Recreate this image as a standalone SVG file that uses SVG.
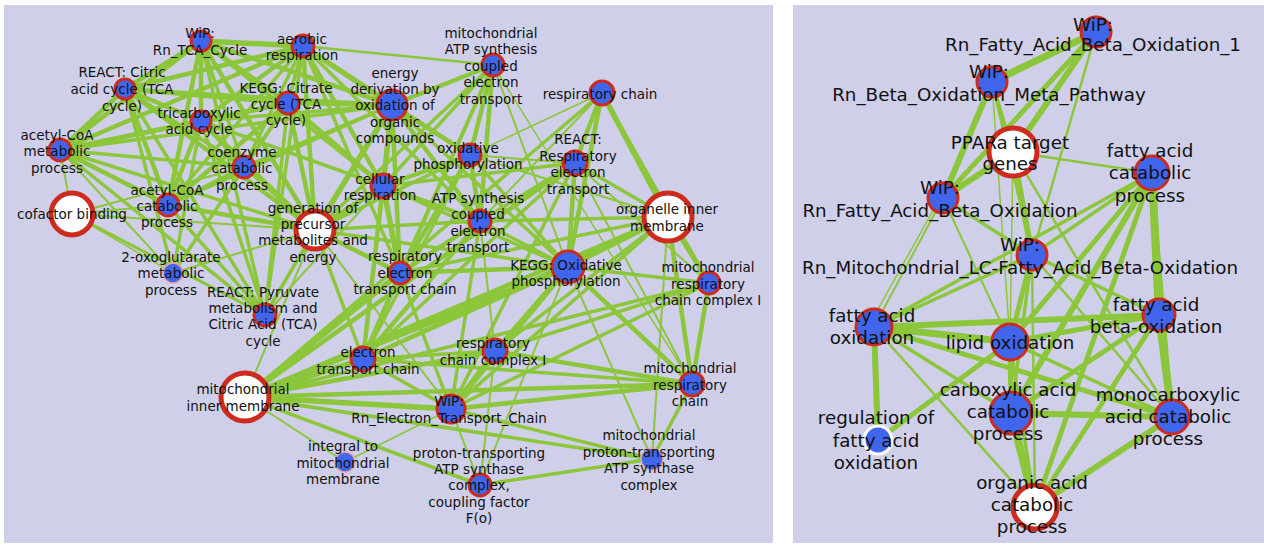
<svg xmlns="http://www.w3.org/2000/svg" width="1264" height="545" viewBox="0 0 1264 545">
<style>
.bg{fill:#cfcfe9}
.e line{stroke:#8cc63a}
.b{fill:#4066ee;stroke:#cc2b1d;stroke-width:3}
.w{fill:#ffffff;stroke:#cc2b1d;stroke-width:5}
.p{fill:#4066ee;stroke:#eba39c;stroke-width:1.5}
.q{fill:#4066ee;stroke:#ffffff;stroke-width:3}
text{font-family:"DejaVu Sans","Liberation Sans",sans-serif;fill:#111111;text-anchor:middle}
.L text{font-size:13.5px}
.R text{font-size:18.3px}
</style>
<rect width="1264" height="545" fill="#ffffff"/>
<rect class="bg" x="4" y="5" width="769" height="538"/>
<rect class="bg" x="793" y="5" width="471" height="538"/>

<g id="connectors" class="e">
<!-- left TCA cluster -->
<line x1="201" y1="41" x2="303" y2="46" stroke-width="5.5"/>
<line x1="201" y1="41" x2="125" y2="89" stroke-width="4.5"/>
<line x1="201" y1="41" x2="288" y2="103" stroke-width="4.5"/>
<line x1="201" y1="41" x2="201" y2="121" stroke-width="4.5"/>
<line x1="201" y1="41" x2="60" y2="150" stroke-width="4.5"/>
<line x1="201" y1="41" x2="244" y2="167" stroke-width="3.5"/>
<line x1="201" y1="41" x2="168" y2="205" stroke-width="4.5"/>
<line x1="201" y1="41" x2="315" y2="230" stroke-width="4.5"/>
<line x1="201" y1="41" x2="265" y2="315" stroke-width="3.5"/>
<line x1="201" y1="41" x2="392" y2="105" stroke-width="4.5"/>
<line x1="201" y1="41" x2="383" y2="186" stroke-width="3.5"/>
<line x1="303" y1="46" x2="125" y2="89" stroke-width="4.5"/>
<line x1="303" y1="46" x2="288" y2="103" stroke-width="3.5"/>
<line x1="303" y1="46" x2="201" y2="121" stroke-width="4.5"/>
<line x1="303" y1="46" x2="392" y2="105" stroke-width="5.5"/>
<line x1="303" y1="46" x2="383" y2="186" stroke-width="4.5"/>
<line x1="303" y1="46" x2="315" y2="230" stroke-width="4.5"/>
<line x1="303" y1="46" x2="60" y2="150" stroke-width="4.5"/>
<line x1="303" y1="46" x2="244" y2="167" stroke-width="3.5"/>
<line x1="303" y1="46" x2="168" y2="205" stroke-width="3.5"/>
<line x1="303" y1="46" x2="265" y2="315" stroke-width="3.5"/>
<line x1="303" y1="46" x2="470" y2="155" stroke-width="3.5"/>
<line x1="303" y1="46" x2="480" y2="221" stroke-width="3.5"/>
<line x1="303" y1="46" x2="400" y2="273" stroke-width="3.5"/>
<line x1="303" y1="46" x2="493" y2="65" stroke-width="2.5"/>
<line x1="125" y1="89" x2="288" y2="103" stroke-width="4.5"/>
<line x1="125" y1="89" x2="201" y2="121" stroke-width="4.5"/>
<line x1="125" y1="89" x2="60" y2="150" stroke-width="4.5"/>
<line x1="125" y1="89" x2="244" y2="167" stroke-width="3.5"/>
<line x1="125" y1="89" x2="168" y2="205" stroke-width="4.5"/>
<line x1="125" y1="89" x2="315" y2="230" stroke-width="4.5"/>
<line x1="125" y1="89" x2="265" y2="315" stroke-width="3.5"/>
<line x1="125" y1="89" x2="392" y2="105" stroke-width="3.5"/>
<line x1="125" y1="89" x2="173" y2="273" stroke-width="3.5"/>
<line x1="288" y1="103" x2="201" y2="121" stroke-width="4.5"/>
<line x1="288" y1="103" x2="60" y2="150" stroke-width="4.5"/>
<line x1="288" y1="103" x2="244" y2="167" stroke-width="3.5"/>
<line x1="288" y1="103" x2="168" y2="205" stroke-width="4.5"/>
<line x1="288" y1="103" x2="315" y2="230" stroke-width="4.5"/>
<line x1="288" y1="103" x2="265" y2="315" stroke-width="3.5"/>
<line x1="288" y1="103" x2="392" y2="105" stroke-width="4.5"/>
<line x1="288" y1="103" x2="383" y2="186" stroke-width="4.5"/>
<line x1="288" y1="103" x2="173" y2="273" stroke-width="3.5"/>
<line x1="201" y1="121" x2="60" y2="150" stroke-width="4.5"/>
<line x1="201" y1="121" x2="168" y2="205" stroke-width="4.5"/>
<line x1="201" y1="121" x2="244" y2="167" stroke-width="3.5"/>
<line x1="201" y1="121" x2="315" y2="230" stroke-width="4.5"/>
<line x1="201" y1="121" x2="265" y2="315" stroke-width="3.5"/>
<line x1="201" y1="121" x2="392" y2="105" stroke-width="3.5"/>
<line x1="201" y1="121" x2="383" y2="186" stroke-width="3.5"/>
<line x1="201" y1="121" x2="173" y2="273" stroke-width="3.5"/>
<line x1="60" y1="150" x2="244" y2="167" stroke-width="3.5"/>
<line x1="60" y1="150" x2="168" y2="205" stroke-width="4.5"/>
<line x1="60" y1="150" x2="315" y2="230" stroke-width="3.5"/>
<line x1="60" y1="150" x2="265" y2="315" stroke-width="3.5"/>
<line x1="60" y1="150" x2="392" y2="105" stroke-width="3.5"/>
<line x1="60" y1="150" x2="72" y2="214" stroke-width="2"/>
<line x1="60" y1="150" x2="173" y2="273" stroke-width="2"/>
<line x1="244" y1="167" x2="168" y2="205" stroke-width="3.5"/>
<line x1="244" y1="167" x2="72" y2="214" stroke-width="2"/>
<line x1="244" y1="167" x2="315" y2="230" stroke-width="3.5"/>
<line x1="244" y1="167" x2="392" y2="105" stroke-width="3.5"/>
<line x1="168" y1="205" x2="315" y2="230" stroke-width="4.5"/>
<line x1="168" y1="205" x2="265" y2="315" stroke-width="3.5"/>
<line x1="168" y1="205" x2="72" y2="214" stroke-width="2"/>
<line x1="168" y1="205" x2="392" y2="105" stroke-width="3.5"/>
<line x1="72" y1="214" x2="315" y2="230" stroke-width="2"/>
<line x1="72" y1="214" x2="265" y2="315" stroke-width="3"/>
<line x1="72" y1="214" x2="173" y2="273" stroke-width="1.5"/>
<line x1="315" y1="230" x2="392" y2="105" stroke-width="5.5"/>
<line x1="315" y1="230" x2="383" y2="186" stroke-width="5.5"/>
<line x1="315" y1="230" x2="265" y2="315" stroke-width="3.5"/>
<line x1="315" y1="230" x2="173" y2="273" stroke-width="2"/>
<line x1="315" y1="230" x2="400" y2="273" stroke-width="4.5"/>
<line x1="315" y1="230" x2="363" y2="359" stroke-width="3.5"/>
<line x1="315" y1="230" x2="470" y2="155" stroke-width="3.5"/>
<line x1="315" y1="230" x2="480" y2="221" stroke-width="3.5"/>
<line x1="315" y1="230" x2="245" y2="397" stroke-width="2"/>
<line x1="315" y1="230" x2="493" y2="65" stroke-width="3.5"/>
<line x1="315" y1="230" x2="568" y2="267" stroke-width="3.5"/>
<line x1="315" y1="230" x2="451" y2="409" stroke-width="2"/>
<line x1="392" y1="105" x2="383" y2="186" stroke-width="5.5"/>
<line x1="392" y1="105" x2="493" y2="65" stroke-width="4.5"/>
<line x1="392" y1="105" x2="470" y2="155" stroke-width="4.5"/>
<line x1="392" y1="105" x2="480" y2="221" stroke-width="4.5"/>
<line x1="392" y1="105" x2="400" y2="273" stroke-width="4.5"/>
<line x1="392" y1="105" x2="363" y2="359" stroke-width="3.5"/>
<line x1="392" y1="105" x2="568" y2="267" stroke-width="3.5"/>
<line x1="392" y1="105" x2="265" y2="315" stroke-width="2"/>
<line x1="383" y1="186" x2="470" y2="155" stroke-width="4.5"/>
<line x1="383" y1="186" x2="480" y2="221" stroke-width="4.5"/>
<line x1="383" y1="186" x2="400" y2="273" stroke-width="5.5"/>
<line x1="383" y1="186" x2="363" y2="359" stroke-width="4.5"/>
<line x1="383" y1="186" x2="493" y2="65" stroke-width="3.5"/>
<line x1="383" y1="186" x2="568" y2="267" stroke-width="3.5"/>
<line x1="383" y1="186" x2="575" y2="163" stroke-width="3.5"/>
<line x1="383" y1="186" x2="265" y2="315" stroke-width="2"/>
<!-- left ETC cluster -->
<line x1="493" y1="65" x2="470" y2="155" stroke-width="4.5"/>
<line x1="493" y1="65" x2="480" y2="221" stroke-width="4.5"/>
<line x1="493" y1="65" x2="400" y2="273" stroke-width="3.5"/>
<line x1="493" y1="65" x2="363" y2="359" stroke-width="3.5"/>
<line x1="493" y1="65" x2="568" y2="267" stroke-width="2"/>
<line x1="493" y1="65" x2="692" y2="384" stroke-width="1.5"/>
<line x1="602" y1="93" x2="575" y2="163" stroke-width="4.5"/>
<line x1="602" y1="93" x2="668" y2="217" stroke-width="5.5"/>
<line x1="602" y1="93" x2="568" y2="267" stroke-width="4.5"/>
<line x1="602" y1="93" x2="709" y2="283" stroke-width="3.5"/>
<line x1="602" y1="93" x2="470" y2="155" stroke-width="1.5"/>
<line x1="602" y1="93" x2="480" y2="221" stroke-width="2"/>
<line x1="602" y1="93" x2="245" y2="397" stroke-width="3.5"/>
<line x1="470" y1="155" x2="480" y2="221" stroke-width="4.5"/>
<line x1="470" y1="155" x2="400" y2="273" stroke-width="4.5"/>
<line x1="470" y1="155" x2="363" y2="359" stroke-width="3.5"/>
<line x1="470" y1="155" x2="568" y2="267" stroke-width="3.5"/>
<line x1="470" y1="155" x2="575" y2="163" stroke-width="2"/>
<line x1="470" y1="155" x2="668" y2="217" stroke-width="2"/>
<line x1="575" y1="163" x2="668" y2="217" stroke-width="3.5"/>
<line x1="575" y1="163" x2="568" y2="267" stroke-width="4.5"/>
<line x1="575" y1="163" x2="480" y2="221" stroke-width="3.5"/>
<line x1="575" y1="163" x2="245" y2="397" stroke-width="4.5"/>
<line x1="575" y1="163" x2="363" y2="359" stroke-width="3.5"/>
<line x1="575" y1="163" x2="451" y2="409" stroke-width="3.5"/>
<line x1="575" y1="163" x2="692" y2="384" stroke-width="2"/>
<line x1="575" y1="163" x2="709" y2="283" stroke-width="2"/>
<line x1="480" y1="221" x2="400" y2="273" stroke-width="4.5"/>
<line x1="480" y1="221" x2="363" y2="359" stroke-width="4.5"/>
<line x1="480" y1="221" x2="568" y2="267" stroke-width="3.5"/>
<line x1="480" y1="221" x2="668" y2="217" stroke-width="3.5"/>
<line x1="480" y1="221" x2="451" y2="409" stroke-width="3.5"/>
<line x1="480" y1="221" x2="495" y2="351" stroke-width="2"/>
<line x1="668" y1="217" x2="568" y2="267" stroke-width="4.5"/>
<line x1="668" y1="217" x2="709" y2="283" stroke-width="4.5"/>
<line x1="668" y1="217" x2="692" y2="384" stroke-width="4.5"/>
<line x1="668" y1="217" x2="245" y2="397" stroke-width="4.5"/>
<line x1="668" y1="217" x2="495" y2="351" stroke-width="3.5"/>
<line x1="668" y1="217" x2="451" y2="409" stroke-width="3.5"/>
<line x1="668" y1="217" x2="363" y2="359" stroke-width="3.5"/>
<line x1="668" y1="217" x2="400" y2="273" stroke-width="3.5"/>
<line x1="668" y1="217" x2="652" y2="459" stroke-width="2"/>
<line x1="568" y1="267" x2="709" y2="283" stroke-width="3.5"/>
<line x1="568" y1="267" x2="692" y2="384" stroke-width="4.5"/>
<line x1="568" y1="267" x2="495" y2="351" stroke-width="4.5"/>
<line x1="568" y1="267" x2="451" y2="409" stroke-width="5.5"/>
<line x1="568" y1="267" x2="245" y2="397" stroke-width="6"/>
<line x1="568" y1="267" x2="363" y2="359" stroke-width="4.5"/>
<line x1="568" y1="267" x2="400" y2="273" stroke-width="4.5"/>
<line x1="568" y1="267" x2="480" y2="485" stroke-width="2"/>
<line x1="568" y1="267" x2="652" y2="459" stroke-width="2"/>
<line x1="709" y1="283" x2="692" y2="384" stroke-width="4.5"/>
<line x1="709" y1="283" x2="495" y2="351" stroke-width="3.5"/>
<line x1="709" y1="283" x2="451" y2="409" stroke-width="3.5"/>
<line x1="709" y1="283" x2="245" y2="397" stroke-width="3.5"/>
<line x1="495" y1="351" x2="451" y2="409" stroke-width="4.5"/>
<line x1="495" y1="351" x2="245" y2="397" stroke-width="4.5"/>
<line x1="495" y1="351" x2="692" y2="384" stroke-width="4.5"/>
<line x1="495" y1="351" x2="363" y2="359" stroke-width="3.5"/>
<line x1="495" y1="351" x2="480" y2="485" stroke-width="2"/>
<line x1="692" y1="384" x2="451" y2="409" stroke-width="4.5"/>
<line x1="692" y1="384" x2="245" y2="397" stroke-width="4.5"/>
<line x1="692" y1="384" x2="652" y2="459" stroke-width="3.5"/>
<line x1="692" y1="384" x2="363" y2="359" stroke-width="3.5"/>
<line x1="451" y1="409" x2="245" y2="397" stroke-width="5.5"/>
<line x1="451" y1="409" x2="363" y2="359" stroke-width="3.5"/>
<line x1="451" y1="409" x2="480" y2="485" stroke-width="2"/>
<line x1="451" y1="409" x2="652" y2="459" stroke-width="3.5"/>
<line x1="451" y1="409" x2="345" y2="462" stroke-width="1.5"/>
<line x1="451" y1="409" x2="400" y2="273" stroke-width="3.5"/>
<line x1="363" y1="359" x2="245" y2="397" stroke-width="5.5"/>
<line x1="363" y1="359" x2="400" y2="273" stroke-width="4.5"/>
<line x1="400" y1="273" x2="245" y2="397" stroke-width="5.5"/>
<line x1="245" y1="397" x2="345" y2="462" stroke-width="2"/>
<line x1="245" y1="397" x2="480" y2="485" stroke-width="3.5"/>
<line x1="245" y1="397" x2="652" y2="459" stroke-width="3.5"/>
<line x1="480" y1="485" x2="652" y2="459" stroke-width="3.5"/>
<!-- right panel -->
<line x1="1096" y1="32" x2="992" y2="82" stroke-width="7"/>
<line x1="1096" y1="32" x2="1013" y2="152" stroke-width="6"/>
<line x1="1096" y1="32" x2="943" y2="198" stroke-width="5"/>
<line x1="1096" y1="32" x2="1032" y2="255" stroke-width="2.5"/>
<line x1="992" y1="82" x2="1013" y2="152" stroke-width="3.5"/>
<line x1="992" y1="82" x2="943" y2="198" stroke-width="6"/>
<line x1="992" y1="82" x2="1032" y2="255" stroke-width="2.5"/>
<line x1="992" y1="82" x2="1010" y2="342" stroke-width="1.5"/>
<line x1="1013" y1="152" x2="943" y2="198" stroke-width="6"/>
<line x1="1013" y1="152" x2="1152" y2="173" stroke-width="2.5"/>
<line x1="1013" y1="152" x2="1032" y2="255" stroke-width="6"/>
<line x1="1013" y1="152" x2="1010" y2="342" stroke-width="1.5"/>
<line x1="1013" y1="152" x2="1172" y2="417" stroke-width="2.5"/>
<line x1="943" y1="198" x2="1032" y2="255" stroke-width="3.5"/>
<line x1="943" y1="198" x2="874" y2="327" stroke-width="2"/>
<line x1="940" y1="198" x2="868" y2="327" stroke-width="1.5"/>
<line x1="943" y1="198" x2="1010" y2="342" stroke-width="2"/>
<line x1="1152" y1="173" x2="1032" y2="255" stroke-width="3.5"/>
<line x1="1152" y1="173" x2="874" y2="327" stroke-width="3.5"/>
<line x1="1152" y1="173" x2="1010" y2="342" stroke-width="5"/>
<line x1="1152" y1="173" x2="1159" y2="315" stroke-width="8"/>
<line x1="1152" y1="173" x2="1011" y2="413" stroke-width="6"/>
<line x1="1152" y1="173" x2="1172" y2="417" stroke-width="3.5"/>
<line x1="1152" y1="173" x2="1035" y2="507" stroke-width="5"/>
<line x1="1032" y1="255" x2="874" y2="327" stroke-width="3.5"/>
<line x1="1032" y1="255" x2="1010" y2="342" stroke-width="5"/>
<line x1="1032" y1="255" x2="1159" y2="315" stroke-width="3.5"/>
<line x1="1032" y1="255" x2="1011" y2="413" stroke-width="3.5"/>
<line x1="1032" y1="255" x2="1172" y2="417" stroke-width="2.5"/>
<line x1="1032" y1="255" x2="1035" y2="507" stroke-width="2.5"/>
<line x1="874" y1="327" x2="1010" y2="342" stroke-width="7"/>
<line x1="874" y1="327" x2="1159" y2="315" stroke-width="6"/>
<line x1="874" y1="327" x2="1011" y2="413" stroke-width="3.5"/>
<line x1="874" y1="327" x2="1172" y2="417" stroke-width="5"/>
<line x1="874" y1="327" x2="878" y2="440" stroke-width="6"/>
<line x1="874" y1="327" x2="1035" y2="507" stroke-width="2.5"/>
<line x1="1010" y1="342" x2="1159" y2="315" stroke-width="5"/>
<line x1="1010" y1="342" x2="1011" y2="413" stroke-width="5"/>
<line x1="1010" y1="342" x2="1172" y2="417" stroke-width="3.5"/>
<line x1="1010" y1="342" x2="1035" y2="507" stroke-width="3.5"/>
<line x1="1010" y1="342" x2="878" y2="440" stroke-width="5"/>
<line x1="1159" y1="315" x2="1011" y2="413" stroke-width="5"/>
<line x1="1159" y1="315" x2="1172" y2="417" stroke-width="8"/>
<line x1="1159" y1="315" x2="1035" y2="507" stroke-width="5"/>
<line x1="1011" y1="413" x2="1172" y2="417" stroke-width="6"/>
<line x1="1011" y1="413" x2="1035" y2="507" stroke-width="8"/>
<line x1="1172" y1="417" x2="1035" y2="507" stroke-width="6"/>
</g>

<g class="L">
<g id="n-tca"><circle class="b" cx="201" cy="41" r="10"/><text x="200" y="38">WiP:</text><text x="200" y="55">Rn_TCA_Cycle</text></g>
<g id="n-aer"><circle class="b" cx="303" cy="46" r="11"/><text x="302" y="44">aerobic</text><text x="302" y="60">respiration</text></g>
<g id="n-rcit"><circle class="b" cx="125" cy="89" r="10"/><text x="122" y="77">REACT: Citric</text><text x="122" y="94">acid cycle (TCA</text><text x="122" y="111">cycle)</text></g>
<g id="n-kcit"><circle class="b" cx="288" cy="103" r="11"/><text x="286" y="93">KEGG: Citrate</text><text x="286" y="109">cycle (TCA</text><text x="286" y="125">cycle)</text></g>
<g id="n-tri"><circle class="b" cx="201" cy="121" r="10"/><text x="199" y="118">tricarboxylic</text><text x="199" y="134">acid cycle</text></g>
<g id="n-acm"><circle class="b" cx="60" cy="150" r="11"/><text x="57" y="140">acetyl-CoA</text><text x="57" y="156">metabolic</text><text x="57" y="173">process</text></g>
<g id="n-coe"><circle class="b" cx="244" cy="167" r="11"/><text x="242" y="157">coenzyme</text><text x="242" y="173">catabolic</text><text x="242" y="190">process</text></g>
<g id="n-acc"><circle class="b" cx="168" cy="205" r="11"/><text x="167" y="195">acetyl-CoA</text><text x="167" y="211">catabolic</text><text x="167" y="227">process</text></g>
<g id="n-cof"><circle class="w" cx="72" cy="214" r="21"/><text x="72" y="219">cofactor binding</text></g>
<g id="n-gen"><circle class="w" cx="315" cy="230" r="19"/><text x="313" y="213">generation of</text><text x="313" y="229">precursor</text><text x="313" y="245">metabolites and</text><text x="313" y="262">energy</text></g>
<g id="n-oxo"><circle class="p" cx="173" cy="273" r="10"/><text x="171" y="262">2-oxoglutarate</text><text x="171" y="278">metabolic</text><text x="171" y="295">process</text></g>
<g id="n-rpyr"><circle class="b" cx="265" cy="315" r="11"/><text x="263" y="297">REACT: Pyruvate</text><text x="263" y="313">metabolism and</text><text x="263" y="329">Citric Acid (TCA)</text><text x="263" y="346">cycle</text></g>
<g id="n-ene"><circle class="b" cx="392" cy="105" r="15"/><text x="395" y="78">energy</text><text x="395" y="94">derivation by</text><text x="395" y="110">oxidation of</text><text x="395" y="127">organic</text><text x="395" y="143">compounds</text></g>
<g id="n-cell"><circle class="b" cx="383" cy="186" r="12"/><text x="380" y="184">cellular</text><text x="380" y="200">respiration</text></g>
<g id="n-matp"><circle class="b" cx="493" cy="65" r="11"/><text x="491" y="38">mitochondrial</text><text x="491" y="54">ATP synthesis</text><text x="491" y="71">coupled</text><text x="491" y="87">electron</text><text x="491" y="104">transport</text></g>
<g id="n-rch"><circle class="b" cx="602" cy="93" r="12"/><text x="600" y="99">respiratory chain</text></g>
<g id="n-oxp"><circle class="b" cx="470" cy="155" r="11"/><text x="468" y="153">oxidative</text><text x="468" y="169">phosphorylation</text></g>
<g id="n-rre"><circle class="b" cx="575" cy="163" r="12"/><text x="578" y="144">REACT:</text><text x="578" y="161">Respiratory</text><text x="578" y="177">electron</text><text x="578" y="194">transport</text></g>
<g id="n-atp"><circle class="b" cx="480" cy="221" r="11"/><text x="478" y="203">ATP synthesis</text><text x="478" y="219">coupled</text><text x="478" y="236">electron</text><text x="478" y="252">transport</text></g>
<g id="n-oim"><circle class="w" cx="668" cy="217" r="24"/><text x="667" y="214">organelle inner</text><text x="667" y="231">membrane</text></g>
<g id="n-retc"><circle class="b" cx="400" cy="273" r="11"/><text x="405" y="261">respiratory</text><text x="405" y="278">electron</text><text x="405" y="294">transport chain</text></g>
<g id="n-kox"><circle class="b" cx="568" cy="267" r="16"/><text x="566" y="270">KEGG: Oxidative</text><text x="566" y="286">phosphorylation</text></g>
<g id="n-mrc1"><circle class="b" cx="709" cy="283" r="11"/><text x="708" y="272">mitochondrial</text><text x="708" y="289">respiratory</text><text x="708" y="305">chain complex I</text></g>
<g id="n-etc"><circle class="b" cx="363" cy="359" r="12"/><text x="368" y="357">electron</text><text x="368" y="374">transport chain</text></g>
<g id="n-rc1"><circle class="b" cx="495" cy="351" r="12"/><text x="493" y="348">respiratory</text><text x="493" y="365">chain complex I</text></g>
<g id="n-mrc"><circle class="b" cx="692" cy="384" r="12"/><text x="690" y="373">mitochondrial</text><text x="690" y="390">respiratory</text><text x="690" y="406">chain</text></g>
<g id="n-mim"><circle class="w" cx="245" cy="397" r="24"/><text x="243" y="394">mitochondrial</text><text x="243" y="411">inner membrane</text></g>
<g id="n-wetc"><circle class="b" cx="451" cy="409" r="14"/><text x="449" y="406">WiP:</text><text x="449" y="423">Rn_Electron_Transport_Chain</text></g>
<g id="n-int"><circle class="p" cx="345" cy="462" r="10"/><text x="343" y="451">integral to</text><text x="343" y="468">mitochondrial</text><text x="343" y="484">membrane</text></g>
<g id="n-mpt"><circle class="p" cx="652" cy="459" r="11"/><text x="649" y="440">mitochondrial</text><text x="649" y="457">proton-transporting</text><text x="649" y="473">ATP synthase</text><text x="649" y="490">complex</text></g>
<g id="n-ptf"><circle class="b" cx="480" cy="485" r="11"/><text x="479" y="458">proton-transporting</text><text x="479" y="474">ATP synthase</text><text x="479" y="490">complex,</text><text x="479" y="507">coupling factor</text><text x="479" y="523">F(o)</text></g>
</g>

<g class="R">
<g id="n-fab1"><circle class="b" cx="1096" cy="32" r="15"/><text x="1093" y="31">WiP:</text><text x="1093" y="51">Rn_Fatty_Acid_Beta_Oxidation_1</text></g>
<g id="n-bom"><circle class="b" cx="992" cy="82" r="15"/><text x="989" y="78">WiP:</text><text x="989" y="101">Rn_Beta_Oxidation_Meta_Pathway</text></g>
<g id="n-ppar"><circle class="w" cx="1013" cy="152" r="24"/><text x="1010" y="149">PPARa target</text><text x="1010" y="170">genes</text></g>
<g id="n-fac"><circle class="b" cx="1152" cy="173" r="17"/><text x="1150" y="157">fatty acid</text><text x="1150" y="179">catabolic</text><text x="1150" y="202">process</text></g>
<g id="n-fab"><circle class="b" cx="943" cy="198" r="15"/><text x="940" y="194">WiP:</text><text x="940" y="217">Rn_Fatty_Acid_Beta_Oxidation</text></g>
<g id="n-mlc"><circle class="b" cx="1032" cy="255" r="15"/><text x="1020" y="251">WiP:</text><text x="1020" y="274">Rn_Mitochondrial_LC-Fatty_Acid_Beta-Oxidation</text></g>
<g id="n-fao"><circle class="b" cx="874" cy="327" r="18"/><text x="872" y="322">fatty acid</text><text x="872" y="344">oxidation</text></g>
<g id="n-lox"><circle class="b" cx="1010" cy="342" r="18"/><text x="1010" y="349">lipid oxidation</text></g>
<g id="n-fbo"><circle class="b" cx="1159" cy="315" r="16"/><text x="1156" y="311">fatty acid</text><text x="1156" y="333">beta-oxidation</text></g>
<g id="n-cac"><circle class="b" cx="1011" cy="413" r="21"/><text x="1008" y="396">carboxylic acid</text><text x="1008" y="418">catabolic</text><text x="1008" y="440">process</text></g>
<g id="n-mca"><circle class="b" cx="1172" cy="417" r="17"/><text x="1168" y="401">monocarboxylic</text><text x="1168" y="423">acid catabolic</text><text x="1168" y="445">process</text></g>
<g id="n-rfa"><circle class="q" cx="878" cy="440" r="14"/><text x="876" y="424">regulation of</text><text x="876" y="447">fatty acid</text><text x="876" y="469">oxidation</text></g>
<g id="n-oac"><circle class="w" cx="1035" cy="507" r="22"/><text x="1032" y="489">organic acid</text><text x="1032" y="511">catabolic</text><text x="1032" y="533">process</text></g>
</g>
</svg>
